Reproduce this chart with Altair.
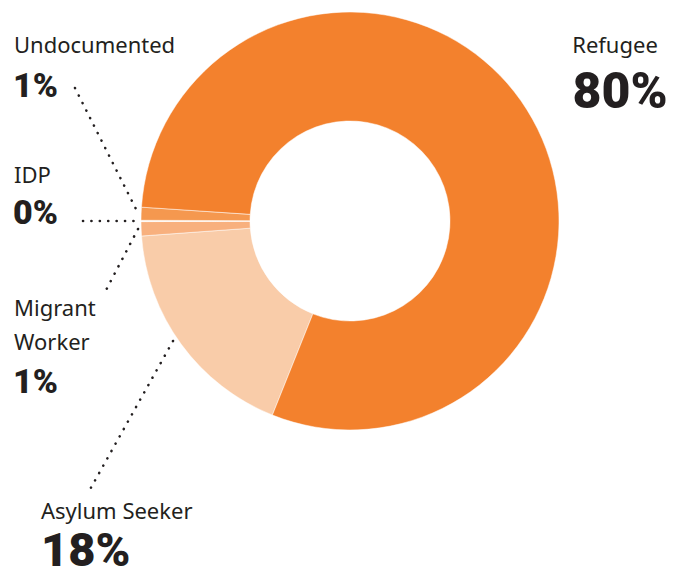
import altair as alt
import pandas as pd
import math

# Data (clockwise order starting from the lower-left boundary)
categories = ["Asylum Seeker", "Migrant Worker", "IDP", "Undocumented", "Refugee"]
values = [17.8, 1.1, 0.1, 1.0, 80.0]
pct_labels = ["18%", "1%", "0%", "1%", "80%"]
colors = ["#F9CCA9", "#F8B07E", "#FFFFFF", "#F5984F", "#F3812D"]

df = pd.DataFrame({"category": categories, "value": values,
                   "order": list(range(len(categories)))})

W, H = 675, 570
CX, CY = 342, 213
start = math.radians(201.8)
INK = "#231F20"
LABEL_FONT = "Noto Sans"
PCT_FONT = "Roboto"

donut = alt.Chart(df).mark_arc(radius=209, innerRadius=100, stroke="white", strokeWidth=0.5).encode(
    x=alt.value(CX), y=alt.value(CY),
    theta=alt.Theta("value:Q", stack=True, scale=alt.Scale(range=[start, start + 2 * math.pi])),
    order=alt.Order("order:Q"),
    color=alt.Color("category:N", scale=alt.Scale(domain=categories, range=colors), legend=None),
)

one = alt.Data(values=[{}])

def txt(s, x, y, size, weight, font, align="left"):
    return alt.Chart(one).mark_text(
        align=align, baseline="alphabetic", fontSize=size, fontWeight=weight, font=font, color=INK
    ).encode(x=alt.value(x), y=alt.value(y), text=alt.value(s))

def leader(x1, y1, x2, y2):
    return alt.Chart(one).mark_rule(
        color=INK, strokeWidth=2.6, strokeDash=[0.1, 8.3], strokeCap="round"
    ).encode(x=alt.value(x1), y=alt.value(y1), x2=alt.value(x2), y2=alt.value(y2))

idx = {c: i for i, c in enumerate(categories)}
layers = [donut]

# Undocumented
layers += [txt(categories[idx["Undocumented"]], 6, 45, 22, 400, LABEL_FONT),
           txt(pct_labels[idx["Undocumented"]], 5, 89, 34, 900, PCT_FONT),
           leader(67, 80, 130, 205)]
# IDP
layers += [txt(categories[idx["IDP"]], 6, 175, 22, 400, LABEL_FONT),
           txt(pct_labels[idx["IDP"]], 5, 216, 34, 900, PCT_FONT),
           leader(75, 213, 130, 213)]
# Migrant Worker (two lines)
mw = categories[idx["Migrant Worker"]].split(" ")
layers += [txt(mw[0], 6, 308, 22, 400, LABEL_FONT),
           txt(mw[1], 6, 342, 22, 400, LABEL_FONT),
           txt(pct_labels[idx["Migrant Worker"]], 5, 385, 34, 900, PCT_FONT),
           leader(130, 221, 96, 286)]
# Asylum Seeker
layers += [txt(categories[idx["Asylum Seeker"]], 33, 511, 22, 400, LABEL_FONT),
           txt(pct_labels[idx["Asylum Seeker"]], 33, 558, 47, 900, PCT_FONT),
           leader(165, 333, 80, 485)]
# Refugee
layers += [txt(categories[idx["Refugee"]], 607, 45, 22, 400, LABEL_FONT, align="center"),
           txt(pct_labels[idx["Refugee"]], 612, 100, 50, 900, PCT_FONT, align="center")]

chart = alt.layer(*layers).properties(
    width=W, height=H, autosize=alt.AutoSizeParams(type="none"), padding=0
).configure_view(stroke=None)

chart.save("out.html", embed_options={"renderer": "svg", "actions": False})
